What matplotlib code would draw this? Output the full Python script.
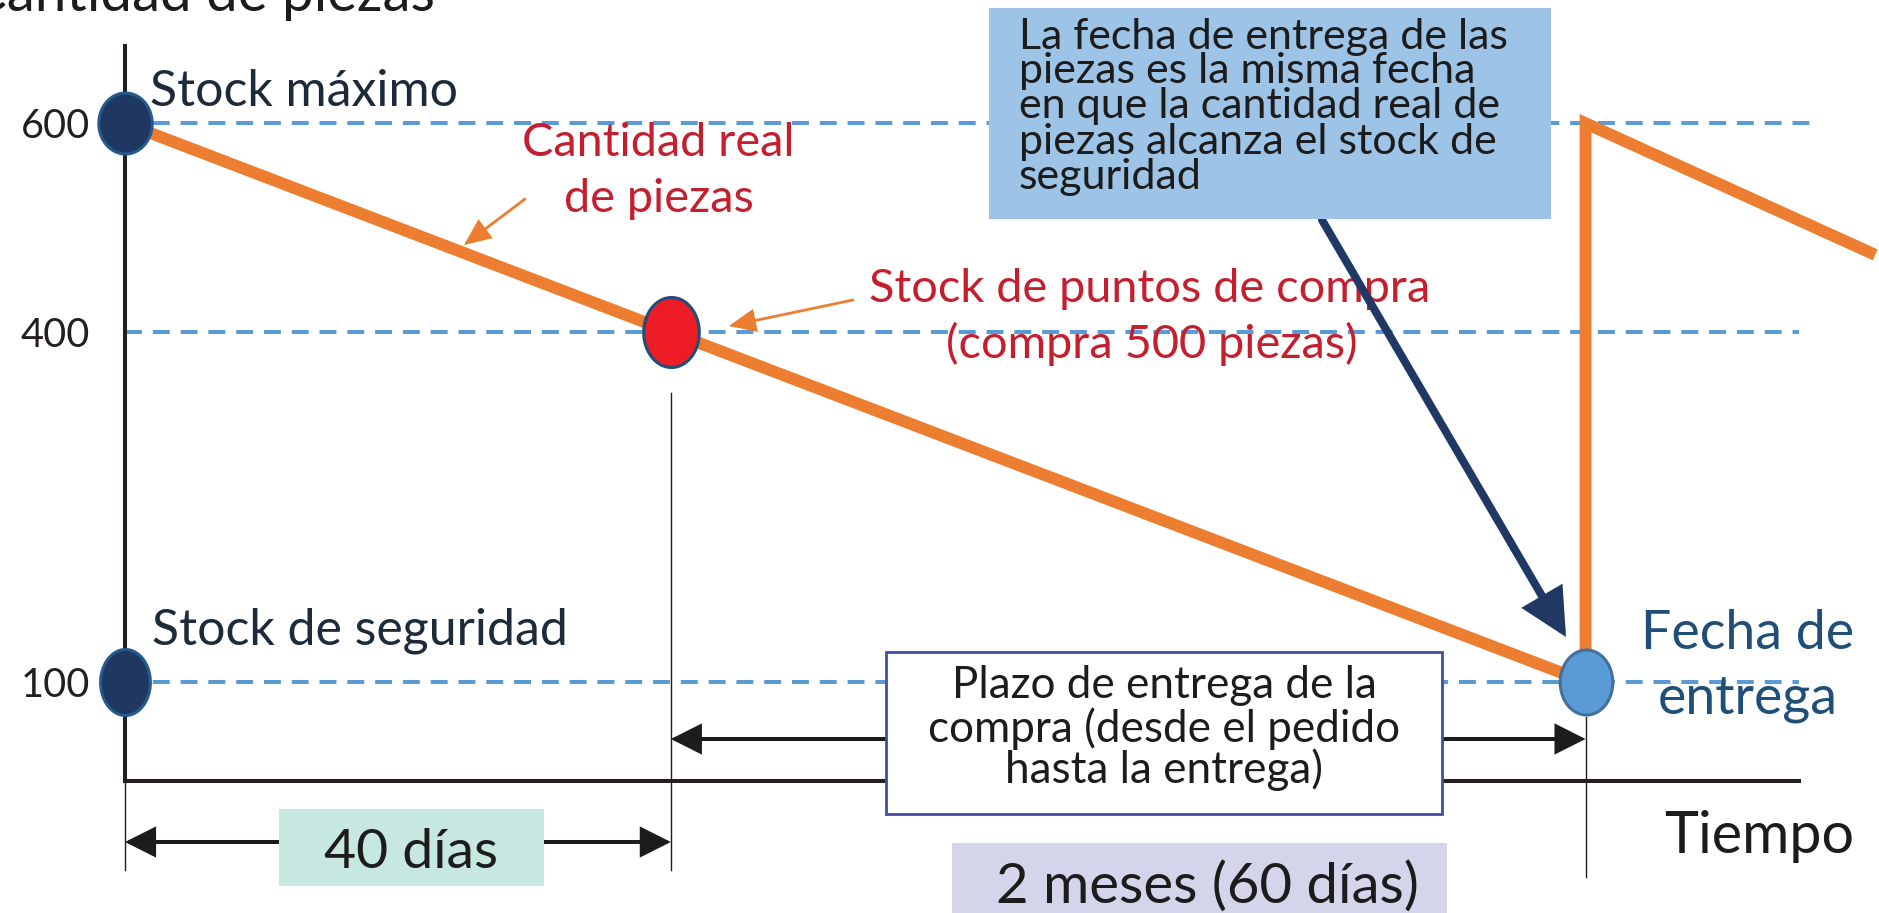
import numpy as np
import matplotlib
matplotlib.use("Agg")
import matplotlib.pyplot as plt
from matplotlib.transforms import Affine2D, blended_transform_factory
from matplotlib.patches import Rectangle, FancyArrowPatch, ArrowStyle
from matplotlib.lines import Line2D
from matplotlib.path import Path

# ---------------- data ----------------
consumo_dias = [0, 40, 100]          # stock máximo -> punto de compra -> entrega
consumo_piezas = [600, 400, 100]
reposicion_dias = [100, 100, 119]
reposicion_piezas = [100, 600, 474]
niveles = [600, 400, 100]            # stock máximo, punto de compra, stock de seguridad
niveles_fin = [115, 114, 114]
ytick_vals = [600, 400, 100]
ytick_labels = ["600", "400", "100"]
puntos_dias = [0, 40, 0, 100]
puntos_piezas = [600, 400, 100, 100]
tramo_compra = [0, 40]               # 40 días
tramo_entrega = [40, 100]            # 2 meses (60 días)
guias_dias = [0, 40, 100]

# ---------------- layout ----------------
W, H = 1879, 913
plt.rcParams["font.family"] = ["Lato", "DejaVu Sans"]
fig = plt.figure(figsize=(W / 100, H / 100), dpi=100)
fig.patch.set_facecolor("white")
AX_L, AX_R, AX_T, AX_B = 125, 1799, 46, 781
ax = fig.add_axes([AX_L / W, (H - AX_B) / H, (AX_R - AX_L) / W, (AX_B - AX_T) / H])


def piecewise(xs, ys):
    xs = np.asarray(xs, float)
    ys = np.asarray(ys, float)
    s0 = (ys[1] - ys[0]) / (xs[1] - xs[0])
    s1 = (ys[-1] - ys[-2]) / (xs[-1] - xs[-2])

    def f(v):
        v = np.asarray(v, float)
        out = np.interp(v, xs, ys)
        out = np.where(v < xs[0], ys[0] + (v - xs[0]) * s0, out)
        out = np.where(v > xs[-1], ys[-1] + (v - xs[-1]) * s1, out)
        return out
    return f


# the original drawing is schematic (not to scale): piecewise-linear scales
x_px = [0, 546, 1461]
y_vals_sorted = sorted(ytick_vals)
y_px = [99, 449, 658]
ax.set_xscale("function", functions=(piecewise(consumo_dias, x_px), piecewise(x_px, consumo_dias)))
ax.set_yscale("function", functions=(piecewise(y_vals_sorted, y_px), piecewise(y_px, y_vals_sorted)))
ax.set_xlim(0, 114)
ax.set_ylim(15, 674)
ax.set_facecolor("none")

for s in ["top", "right"]:
    ax.spines[s].set_visible(False)
for s in ["left", "bottom"]:
    ax.spines[s].set_linewidth(2.9)
    ax.spines[s].set_color("#231f20")
    ax.spines[s].set_zorder(2.5)
ax.set_xticks([])

pxT = Affine2D().scale(1, -1).translate(0, H)     # figure pixels, origin top-left
bx = blended_transform_factory(ax.transData, pxT)  # x in days, y in pixels

renderer = fig.canvas.get_renderer()


def fit(s, target, base=40.0):
    t = ax.text(0, 0, s, transform=pxT, fontsize=base)
    w = t.get_window_extent(renderer=renderer).width
    t.remove()
    return base * target / w


def put(s, x, y, size, color, ha="left", z=5):
    t = ax.text(x, y, s, transform=pxT, fontsize=size, color=color, ha=ha,
                va="baseline", zorder=z)
    t.set_clip_on(False)
    return t


def box(x, y, w, h, fc, ec="none", lw=0.0, z=4):
    r = Rectangle((x, y), w, h, transform=pxT, fc=fc, ec=ec, lw=lw, zorder=z)
    ax.add_artist(r)
    r.set_clip_on(False)


def arrow(p0, p1, trans, style, lw, color, z):
    a = FancyArrowPatch(p0, p1, transform=trans, arrowstyle=style, mutation_scale=1,
                        lw=lw, color=color, shrinkA=0, shrinkB=0, zorder=z,
                        joinstyle="miter")
    ax.add_artist(a)
    a.set_clip_on(False)


# colours
ORANGE = "#ed7d31"
DASH = "#5b9bd5"
DARK = "#1c1c1c"
NAVYTXT = "#1c2a3a"
RED = "#c41f2e"
FECHA = "#1f4e79"

# ---------------- y ticks ----------------
sz_tick = fit("600", 69)
ax.set_yticks(ytick_vals, ytick_labels)
ax.tick_params(axis="y", length=0, pad=25, labelsize=sz_tick, labelcolor="#231f20")

# ---------------- reference dashed levels ----------------
for lvl, xe in zip(niveles, niveles_fin):
    ax.plot([0, xe], [lvl, lvl], color=DASH, lw=2.9, dashes=(4.2, 2.7),
            zorder=1, clip_on=False)

# ---------------- stock line ----------------
ax.plot(consumo_dias, consumo_piezas, color=ORANGE, lw=8.6,
        solid_capstyle="butt", solid_joinstyle="miter", zorder=2, clip_on=False)
ax.plot(reposicion_dias, reposicion_piezas, color=ORANGE, lw=8.6,
        solid_capstyle="butt", solid_joinstyle="miter", zorder=2, clip_on=False)

# ---------------- points (ellipses) ----------------


def ellipse(w, h):
    t = np.linspace(0, 2 * np.pi, 73)
    return Path(np.column_stack([w * np.cos(t), h * np.sin(t)]), closed=True)


marker_specs = [
    (56, 64, "#1e3861", "#245a8c"),
    (58, 73, "#ee1c25", "#1f4e79"),
    (52, 69, "#1e3861", "#245a8c"),
    (55, 68, "#5b9bd5", "#41719c"),
]
for d, p, (w, h, fc, ec) in zip(puntos_dias, puntos_piezas, marker_specs):
    ax.plot([d], [p], marker=ellipse(w, h), markersize=(h - 3) * 0.72, mfc=fc,
            mec=ec, mew=2.2, ls="none", zorder=6, clip_on=False)

# ---------------- thin guide lines ----------------
guia_px = [(782, 870), (393, 870), (717, 877)]
for d, (y0, y1) in zip(guias_dias, guia_px):
    ln = Line2D([d, d], [y0, y1], transform=bx, color=DARK, lw=1.0, zorder=2)
    ax.add_artist(ln)
    ln.set_clip_on(False)

# ---------------- dimension arrows ----------------
dim_style = ArrowStyle("<|-|>", head_length=17.7, head_width=8.9)
arrow((tramo_compra[0], 842), (tramo_compra[1], 842), bx, dim_style, 2.9, DARK, 3)
arrow((tramo_entrega[0], 739), (tramo_entrega[1], 739), bx, dim_style, 2.9, DARK, 3)

# ---------------- pointer arrows ----------------
arrow((1322, 220), (1566, 637), pxT, ArrowStyle("-|>", head_length=25, head_width=12.5),
      5.8, "#1f3864", 3.5)
small = ArrowStyle("-|>", head_length=16, head_width=7)
arrow((525, 199), (464, 245), pxT, small, 2.0, ORANGE, 3)
arrow((853, 300), (729, 326), pxT, small, 2.0, ORANGE, 3)

# ---------------- boxes ----------------
box(989, 8, 562, 211, "#9dc3e6")
box(886, 652, 556, 162, "white", ec="#3f4ea5", lw=2.0)
box(279, 809, 265, 77, "#c6e8e1")
box(952, 843, 495, 90, "#d4d4ea")

# ---------------- texts ----------------
put("Cantidad de piezas", 435, 11, fit("Cantidad de piezas", 465), DARK, ha="right")

sz_stock = fit("Stock de seguridad", 415)
put("Stock máximo", 150, 106, sz_stock, NAVYTXT)
put("Stock de seguridad", 152, 644, sz_stock, NAVYTXT)

sz_red = fit("Stock de puntos de compra", 561)
put("Cantidad real", 658, 156, sz_red, RED, ha="center", z=3)
put("de piezas", 659, 212, sz_red, RED, ha="center", z=3)
put("Stock de puntos de compra", 1150, 302, sz_red, RED, ha="center", z=3)
put("(compra 500 piezas)", 1152, 358, sz_red, RED, ha="center", z=3)

sz_call = fit("La fecha de entrega de las", 490)
callout = ["La fecha de entrega de las", "piezas es la misma fecha",
           "en que la cantidad real de", "piezas alcanza el stock de", "seguridad"]
for line, yb in zip(callout, [49, 83, 118, 154, 189]):
    put(line, 1019, yb, sz_call, DARK)

sz_fecha = fit("Fecha de", 213)
put("Fecha de", 1748, 649, sz_fecha, FECHA, ha="center")
put("entrega", 1748, 713, sz_fecha, FECHA, ha="center")

put("Tiempo", 1664, 853, fit("Tiempo", 190), DARK)
put("40 días", 411, 868, fit("40 días", 174), DARK, ha="center")
put("2 meses (60 días)", 1207, 903, fit("2 meses (60 días)", 422), DARK, ha="center")

sz_plazo = fit("compra (desde el pedido", 471)
for line, yb in zip(["Plazo de entrega de la", "compra (desde el pedido", "hasta la entrega)"],
                    [698, 742, 783]):
    put(line, 1164, yb, sz_plazo, DARK, ha="center")

fig.savefig("out.png", dpi=100)
